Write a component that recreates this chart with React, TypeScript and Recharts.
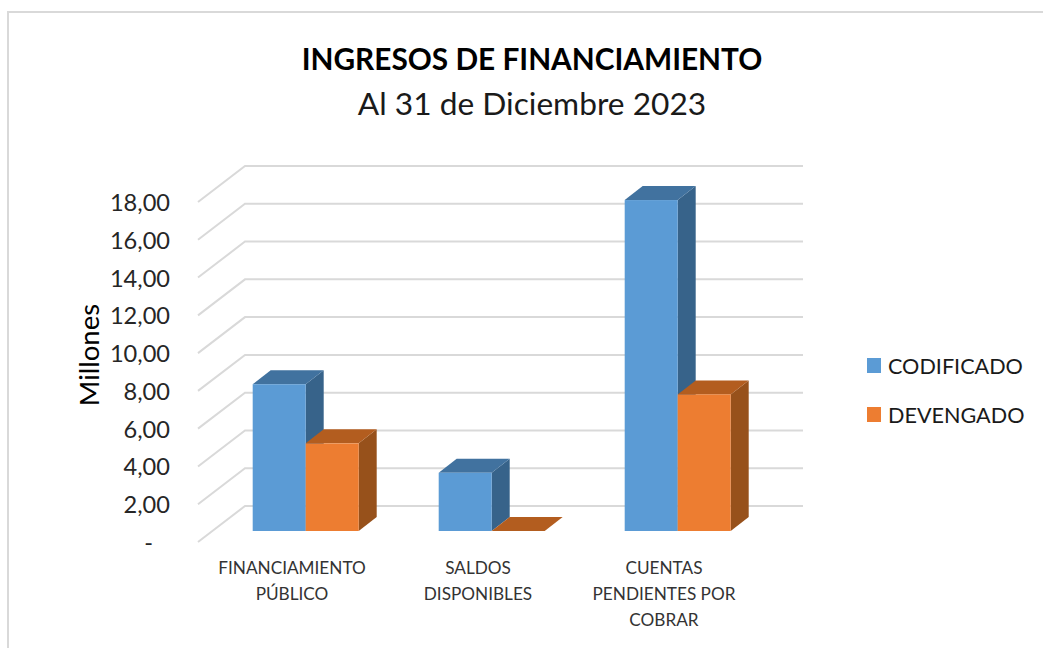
import { BarChart, Bar, XAxis, YAxis, CartesianGrid, Legend, Text } from 'recharts'

const categories = ['FINANCIAMIENTO PÚBLICO', 'SALDOS DISPONIBLES', 'CUENTAS PENDIENTES POR COBRAR']
const codificado = [7.77, 3.08, 17.52]
const devengado = [4.64, 0, 7.23]
const yTicks = [0, 2, 4, 6, 8, 10, 12, 14, 16, 18]

const data = categories.map((name, i) => ({
  name,
  CODIFICADO: codificado[i],
  DEVENGADO: devengado[i],
}))

const FONT = 'Lato, sans-serif'

// 3D look: front face of the bar is pushed into the box, depth goes up and right
const WALL_DX = 47
const WALL_DY = -36
const BAR_DX = 14.7
const BAR_DY = -11
const DEPTH_X = 18
const DEPTH_Y = -14

const bar3d = (front: string, top: string, side: string) => (props: any) => {
  const x = props.x + BAR_DX
  const y = props.y + BAR_DY
  const { width: w, height: h } = props
  return (
    <g>
      <polygon
        points={`${x + w},${y} ${x + w + DEPTH_X},${y + DEPTH_Y} ${x + w + DEPTH_X},${y + h + DEPTH_Y} ${x + w},${y + h}`}
        fill={side}
      />
      <polygon
        points={`${x},${y} ${x + DEPTH_X},${y + DEPTH_Y} ${x + w + DEPTH_X},${y + DEPTH_Y} ${x + w},${y}`}
        fill={top}
      />
      <rect x={x} y={y} width={w} height={h} fill={front} />
    </g>
  )
}

const gridLine = (props: any) => {
  const { x1, y1, x2 } = props
  return (
    <g key={props.key} stroke="#D9D9D9" strokeWidth={2} fill="none">
      <polyline points={`${x1},${y1} ${x1 + WALL_DX},${y1 + WALL_DY} ${x2 + WALL_DX},${y1 + WALL_DY}`} />
    </g>
  )
}

const YTick = (props: any) => {
  const { x, y, payload } = props
  const zero = payload.value === 0
  return (
    <text
      x={zero ? x - 17 : x}
      y={y + 3}
      textAnchor="end"
      dominantBaseline="middle"
      fontFamily={FONT}
      fontSize={23.6}
      fill="#262626"
    >
      {zero ? '-' : payload.value.toFixed(2).replace('.', ',')}
    </text>
  )
}

const XTick = (props: any) => {
  const { x, y, payload } = props
  return (
    <Text
      x={x + 1}
      y={y}
      width={165}
      textAnchor="middle"
      verticalAnchor="start"
      lineHeight={26}
      fontFamily={FONT}
      fontSize={17.2}
      fill="#333333"
    >
      {payload.value}
    </Text>
  )
}

const LegendRows = ({ payload }: any) => (
  <div>
    {(payload || []).map((p: any) => (
      <div key={p.value} style={{ display: 'flex', alignItems: 'center', height: 49 }}>
        <span style={{ width: 14, height: 15, background: p.color, marginRight: 7 }} />
        <span style={{ fontFamily: FONT, fontSize: 21.6, color: '#1a1a1a', whiteSpace: 'nowrap' }}>{p.value}</span>
      </div>
    ))}
  </div>
)

export default function App() {
  return (
    <div style={{ position: 'absolute', left: 0, top: 0, width: 1043, height: 648, overflow: 'hidden', background: '#fff' }}>
      <div style={{ position: 'absolute', left: 7, top: 11, width: 1100, height: 800, border: '2px solid #D9D9D9' }} />
      <div style={{ position: 'absolute', left: 0, width: 1064, top: 38, textAlign: 'center', fontFamily: FONT, fontWeight: 700, fontSize: 29.8, lineHeight: '42px', color: '#000' }}>
        INGRESOS DE FINANCIAMIENTO
      </div>
      <div style={{ position: 'absolute', left: 0, width: 1064, top: 82, textAlign: 'center', fontFamily: FONT, fontSize: 31.7, lineHeight: '42px', color: '#1a1a1a' }}>
        Al 31 de Diciembre 2023
      </div>
      <BarChart
        width={1043}
        height={648}
        data={data}
        barSize={53}
        barGap={0}
        margin={{ top: 202, right: 117, bottom: 0, left: 0 }}
        style={{ position: 'absolute', left: 0, top: 0 }}
      >
        <CartesianGrid vertical={false} horizontal={gridLine} />
        <XAxis dataKey="name" height={106} axisLine={false} tickLine={false} tick={XTick} tickMargin={14} interval={0} />
        <YAxis
          width={198}
          domain={[0, 18]}
          ticks={yTicks}
          axisLine={false}
          tickLine={false}
          tick={YTick}
          tickMargin={22}
          label={{ value: 'Millones', angle: -90, position: 'insideLeft', dx: 84, dy: -17, style: { fontFamily: FONT, fontSize: 27.5, fill: '#000', textAnchor: 'middle' } }}
        />
        <Legend
          layout="vertical"
          align="right"
          verticalAlign="middle"
          content={LegendRows}
          wrapperStyle={{ position: 'absolute', left: 867, top: 341, width: 170 }}
        />
        <Bar dataKey="CODIFICADO" fill="#5B9BD5" shape={bar3d('#5B9BD5', '#41729F', '#37638A')} isAnimationActive={false} />
        <Bar dataKey="DEVENGADO" fill="#ED7D31" shape={bar3d('#ED7D31', '#B35D1F', '#97511B')} isAnimationActive={false} />
      </BarChart>
    </div>
  )
}
